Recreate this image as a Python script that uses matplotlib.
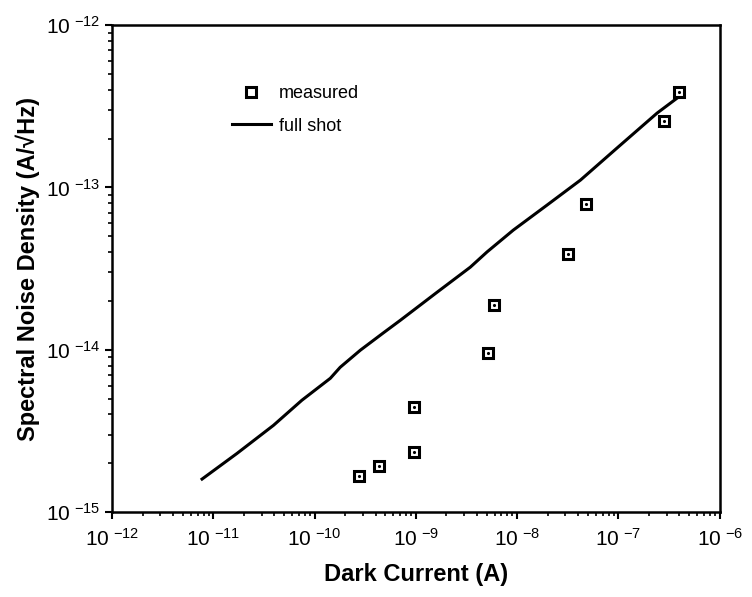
import matplotlib
matplotlib.use('Agg')
import matplotlib.pyplot as plt
import numpy as np
from matplotlib.ticker import LogLocator, FuncFormatter, NullFormatter

plt.rcParams['font.family'] = ['Liberation Sans', 'DejaVu Sans']
plt.rcParams['mathtext.default'] = 'regular'
plt.rcParams['axes.unicode_minus'] = False

# measured points (dark current A, noise A/sqrt(Hz))
corriente_med = [2.76e-10, 4.35e-10, 9.64e-10, 9.64e-10, 5.19e-9, 5.86e-9,
                 3.18e-8, 4.80e-8, 2.79e-7, 4.01e-7]
ruido_med = [1.66e-15, 1.92e-15, 2.34e-15, 4.43e-15, 9.53e-15, 1.88e-14,
             3.92e-14, 7.89e-14, 2.56e-13, 3.86e-13]

# full shot noise curve
corriente_shot = [7.74e-12, 1.71e-11, 3.93e-11, 7.48e-11, 1.43e-10, 1.79e-10,
                  2.83e-10, 4.76e-10, 7.02e-10, 1.60e-9, 3.45e-9, 5.05e-9,
                  9.16e-9, 1.97e-8, 4.22e-8, 9.70e-8, 2.41e-7, 3.80e-7]
ruido_shot = [1.60e-15, 2.30e-15, 3.43e-15, 4.89e-15, 6.68e-15, 7.81e-15,
              9.95e-15, 1.27e-14, 1.52e-14, 2.25e-14, 3.23e-14, 4.01e-14,
              5.46e-14, 7.78e-14, 1.11e-13, 1.75e-13, 2.87e-13, 3.55e-13]

fig = plt.figure(figsize=(7.52, 5.97), dpi=100)
ax = fig.add_axes([0.149, 0.142, 0.808, 0.816])

ax.plot(corriente_shot, ruido_shot, '-', color='black', lw=2.2, label='full shot')
ax.plot(corriente_med, ruido_med, 's', mfc='white', mec='black', mew=2.2, ms=7.5,
        label='measured')
ax.plot(corriente_med, ruido_med, '.', color='black', ms=2.5)

ax.set_xscale('log')
ax.set_yscale('log')
ax.set_xlim(1e-12, 1e-6)
ax.set_ylim(1e-15, 1e-12)

fmt = FuncFormatter(lambda v, p: r'$10^{\ {-}%d}$' % abs(round(np.log10(v))))
ax.xaxis.set_major_formatter(fmt)
ax.yaxis.set_major_formatter(fmt)
ax.xaxis.set_minor_formatter(NullFormatter())
ax.yaxis.set_minor_formatter(NullFormatter())
ax.xaxis.set_major_locator(LogLocator(base=10, numticks=10))
ax.yaxis.set_major_locator(LogLocator(base=10, numticks=10))

ax.tick_params(which='major', direction='out', length=5, width=1.5,
               labelsize=15, top=False, right=False)
ax.tick_params(axis='x', which='major', pad=6)
ax.tick_params(which='minor', direction='out', length=3, width=1.2,
               top=False, right=False)
for s in ax.spines.values():
    s.set_linewidth(1.8)

ax.set_xlabel('Dark Current (A)', fontsize=17, fontweight='bold', labelpad=10)
ax.set_ylabel('Spectral Noise Density (A/\u221aHz)', fontsize=17, fontweight='bold')

h, l = ax.get_legend_handles_labels()
ax.legend([h[1], h[0]], [l[1], l[0]], loc='upper left',
          bbox_to_anchor=(0.17, 0.91), frameon=False, fontsize=13,
          handlelength=2.2, handletextpad=0.4, labelspacing=0.85)

fig.savefig('out.png', dpi=100)
